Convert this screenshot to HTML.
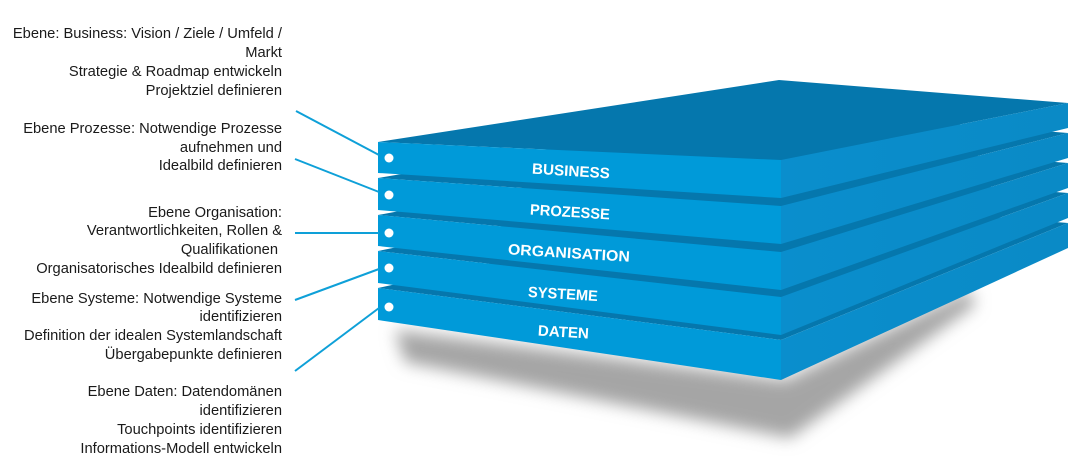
<!DOCTYPE html>
<html><head><meta charset="utf-8"><style>
html,body{margin:0;padding:0;background:#fff;width:1080px;height:474px;overflow:hidden}
svg{display:block}
.t{font-family:"Liberation Sans",sans-serif;font-size:14.7px;fill:#1a1a1a}
.l{font-family:"Liberation Sans",sans-serif;font-weight:bold;font-size:15px;fill:#fff}
</style></head><body>
<svg width="1080" height="474" viewBox="0 0 1080 474" xmlns="http://www.w3.org/2000/svg">
<defs>
<filter id="b" x="-20%" y="-50%" width="140%" height="200%"><feGaussianBlur stdDeviation="8"/></filter>
<linearGradient id="rf" x1="0" y1="0" x2="1" y2="0"><stop offset="0" stop-color="#0a8ecd"/><stop offset="1" stop-color="#0a8ac6"/></linearGradient>
</defs>
<polygon points="395,330 785,380 970,290 975,305 790,438 405,362" fill="#a5a5a5" filter="url(#b)"/>
<g>
<polygon points="378,288 779,200 1068,223 781,340" fill="#0577ad"/>
<polygon points="378,288 781,340 781,380 378,320" fill="#009ad9"/>
<polygon points="781,340 1068,223 1068,248 781,380" fill="url(#rf)"/>
<polygon points="378,251 779,170 1068,193 781,297" fill="#0577ad"/>
<polygon points="378,251 781,297 781,335 378,283" fill="#009ad9"/>
<polygon points="781,297 1068,193 1068,218 781,335" fill="url(#rf)"/>
<polygon points="378,215 779,140 1068,163 781,252" fill="#0577ad"/>
<polygon points="378,215 781,252 781,290 378,246" fill="#009ad9"/>
<polygon points="781,252 1068,163 1068,188 781,290" fill="url(#rf)"/>
<polygon points="378,178 779,110 1068,133 781,206" fill="#0577ad"/>
<polygon points="378,178 781,206 781,244 378,210" fill="#009ad9"/>
<polygon points="781,206 1068,133 1068,158 781,244" fill="url(#rf)"/>
<polygon points="378,142 779,80 1068,103 781,160" fill="#0577ad"/>
<polygon points="378,142 781,160 781,198 378,173" fill="#009ad9"/>
<polygon points="781,160 1068,103 1068,128 781,198" fill="url(#rf)"/>
</g>
<g class="l">
<text x="532" y="176" textLength="78" lengthAdjust="spacingAndGlyphs" transform="rotate(3.5 571 170)">BUSINESS</text>
<text x="530" y="217" textLength="80" lengthAdjust="spacingAndGlyphs" transform="rotate(3.5 570 211)">PROZESSE</text>
<text x="508" y="258" textLength="122" lengthAdjust="spacingAndGlyphs" transform="rotate(3.5 569 252)">ORGANISATION</text>
<text x="528" y="299" textLength="70" lengthAdjust="spacingAndGlyphs" transform="rotate(3.5 563 293)">SYSTEME</text>
<text x="538" y="337" textLength="51" lengthAdjust="spacingAndGlyphs" transform="rotate(3.5 563 331)">DATEN</text>
</g>
<g stroke="#0ea0d8" stroke-width="2" fill="none">
<line x1="296" y1="111" x2="379" y2="155"/>
<line x1="295" y1="159" x2="379" y2="192"/>
<line x1="295" y1="233" x2="379" y2="233"/>
<line x1="295" y1="300" x2="379" y2="269"/>
<line x1="295" y1="371" x2="379" y2="308"/>
</g>
<g fill="#fff">
<circle cx="389" cy="158" r="4.5"/>
<circle cx="389" cy="195" r="4.5"/>
<circle cx="389" cy="233" r="4.5"/>
<circle cx="389" cy="268" r="4.5"/>
<circle cx="389" cy="307" r="4.5"/>
</g>
<g class="t" text-anchor="end">
<text x="282" y="38">Ebene: Business: Vision / Ziele / Umfeld /</text>
<text x="282" y="57">Markt</text>
<text x="282" y="76">Strategie &amp; Roadmap entwickeln</text>
<text x="282" y="95">Projektziel definieren</text>
<text x="282" y="133">Ebene Prozesse: Notwendige Prozesse</text>
<text x="282" y="152">aufnehmen und</text>
<text x="282" y="170">Idealbild definieren</text>
<text x="282" y="217">Ebene Organisation:</text>
<text x="282" y="235">Verantwortlichkeiten, Rollen &amp;</text>
<text x="278" y="254">Qualifikationen</text>
<text x="282" y="273">Organisatorisches Idealbild definieren</text>
<text x="282" y="303">Ebene Systeme: Notwendige Systeme</text>
<text x="282" y="321">identifizieren</text>
<text x="282" y="340">Definition der idealen Systemlandschaft</text>
<text x="282" y="359">Übergabepunkte definieren</text>
<text x="282" y="396">Ebene Daten: Datendomänen</text>
<text x="282" y="415">identifizieren</text>
<text x="282" y="434">Touchpoints identifizieren</text>
<text x="282" y="453">Informations-Modell entwickeln</text>
</g>
</svg>
</body></html>
